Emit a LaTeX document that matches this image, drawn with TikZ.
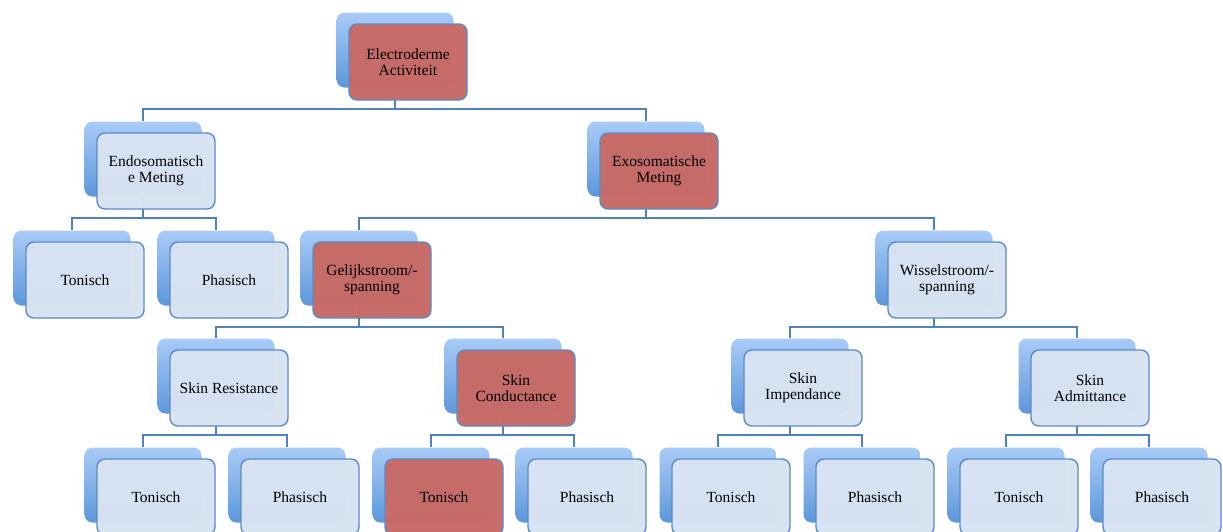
\documentclass[tikz,border=0pt]{standalone}
\usepackage{fontspec}
\setmainfont{Liberation Serif}
\usepackage{xcolor}
\usetikzlibrary{positioning}
\definecolor{lijn}{HTML}{4F81BD}
\definecolor{rand}{HTML}{5B8CC4}
\definecolor{lichtvak}{HTML}{D8E3F2}
\definecolor{roodvak}{HTML}{C76A66}
\definecolor{achterlicht}{HTML}{A9CBF7}
\definecolor{achterdonker}{HTML}{5C97DB}

\begin{document}
\begin{tikzpicture}[x=1pt,y=-1pt,
	achter/.style={rectangle,rounded corners=8pt,minimum width=117pt,minimum height=75pt,top color=achterlicht,bottom color=achterdonker},
	voor/.style={rectangle,rounded corners=8pt,minimum width=118pt,minimum height=76pt,draw=rand,line width=1.4pt,fill=lichtvak,fill opacity=0.98,text opacity=1,align=center,font=\fontsize{15.5}{16.5}\selectfont},
	rood/.style={voor,fill=roodvak},
	tak/.style={draw=lijn,line width=1.7pt}]
	\useasboundingbox (0,0) rectangle (1223,531);

	% achterste vlakken
	\node[achter] (ea) at (395,50) {};
	\node[achter] (endo) at (143,159) {};
	\node[achter] (exo) at (646,159) {};
	\node[achter] (ton1) at (72,268) {};
	\node[achter] (pha1) at (216,268) {};
	\node[achter] (gel) at (359,268) {};
	\node[achter] (wis) at (934,268) {};
	\node[achter] (res) at (216,376) {};
	\node[achter] (con) at (503,376) {};
	\node[achter] (imp) at (790,376) {};
	\node[achter] (adm) at (1077,376) {};
	\node[achter] (ton2) at (143,485) {};
	\node[achter] (pha2) at (287,485) {};
	\node[achter] (ton3) at (431,485) {};
	\node[achter] (pha3) at (574,485) {};
	\node[achter] (ton4) at (718,485) {};
	\node[achter] (pha4) at (862,485) {};
	\node[achter] (ton5) at (1006,485) {};
	\node[achter] (pha5) at (1149,485) {};

	% verbindingen
	\foreach \a/\b in {ea/endo,ea/exo,endo/ton1,endo/pha1,exo/gel,exo/wis,
		gel/res,gel/con,wis/imp,wis/adm,res/ton2,res/pha2,con/ton3,con/pha3,
		imp/ton4,imp/pha4,adm/ton5,adm/pha5}
		\draw[tak] (\a.south) -- ++(0,21) -| (\b.north);

	% voorste vlakken
	\node[rood] (ea-t) at ([shift={(13,12)}]ea.center) {Electroderme\\Activiteit};
	\node[voor] (endo-t) at ([shift={(13,12)}]endo.center) {Endosomatisch\\e Meting};
	\node[rood] (exo-t) at ([shift={(13,12)}]exo.center) {Exosomatische\\Meting};
	\node[voor] (ton1-t) at ([shift={(13,12)}]ton1.center) {Tonisch};
	\node[voor] (pha1-t) at ([shift={(13,12)}]pha1.center) {Phasisch};
	\node[rood] (gel-t) at ([shift={(13,12)}]gel.center) {Gelijkstroom/-\\spanning};
	\node[voor] (wis-t) at ([shift={(13,12)}]wis.center) {Wisselstroom/-\\spanning};
	\node[voor] (res-t) at ([shift={(13,12)}]res.center) {Skin Resistance};
	\node[rood] (con-t) at ([shift={(13,12)}]con.center) {Skin\\Conductance};
	\node[voor] (imp-t) at ([shift={(13,12)}]imp.center) {Skin\\Impendance};
	\node[voor] (adm-t) at ([shift={(13,12)}]adm.center) {Skin\\Admittance};
	\node[voor] (ton2-t) at ([shift={(13,12)}]ton2.center) {Tonisch};
	\node[voor] (pha2-t) at ([shift={(13,12)}]pha2.center) {Phasisch};
	\node[rood] (ton3-t) at ([shift={(13,12)}]ton3.center) {Tonisch};
	\node[voor] (pha3-t) at ([shift={(13,12)}]pha3.center) {Phasisch};
	\node[voor] (ton4-t) at ([shift={(13,12)}]ton4.center) {Tonisch};
	\node[voor] (pha4-t) at ([shift={(13,12)}]pha4.center) {Phasisch};
	\node[voor] (ton5-t) at ([shift={(13,12)}]ton5.center) {Tonisch};
	\node[voor] (pha5-t) at ([shift={(13,12)}]pha5.center) {Phasisch};
\end{tikzpicture}
\end{document}
